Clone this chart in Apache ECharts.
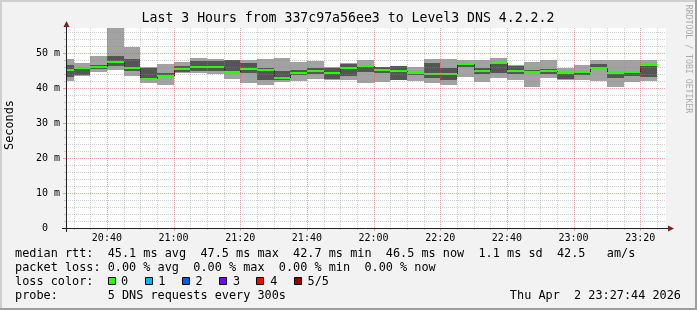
<!DOCTYPE html>
<html><head><meta charset="utf-8">
<script src="https://cdn.jsdelivr.net/npm/echarts@6/dist/echarts.min.js"></script>
<style>html,body{margin:0;padding:0;background:#f2f2f2}#c{width:697px;height:310px}</style>
</head><body><div id="c"></div>
<script>
// ---- data (times in minutes after midnight; each bin covers [end-5, end]) ----
const binEnd = [1230,1235,1240,1245,1250,1255,1260,1265,1270,1275,1280,1285,1290,1295,1300,1305,1310,1315,1320,1325,1330,1335,1340,1345,1350,1355,1360,1365,1370,1375,1380,1385,1390,1395,1400,1405];
const pingMin = [42.1,43.5,44.7,45.1,43.5,41.5,40.9,44.2,44.3,44.1,42.5,41.3,40.9,41.8,42.1,42.7,42.2,42.2,41.3,41.8,42.2,42.1,41.5,40.9,43.2,41.8,42.8,42.3,40.4,42.9,42.3,42.2,41.9,40.4,41.7,42.0];
const ping2   = [43.1,43.8,45.4,46.3,44.9,42.2,43.2,44.6,44.9,44.8,44.3,44.2,42.3,42.3,43.6,44.1,42.6,43.4,44.7,44.4,42.4,43.8,43.0,42.4,45.9,43.9,44.3,44.0,44.2,44.1,42.6,43.7,45.5,42.9,43.5,43.2];
const median  = [45.1,45.7,46.1,47.5,45.7,42.7,43.5,45.4,46.0,46.0,44.7,45.5,45.2,42.8,44.3,44.9,44.4,45.6,46.2,45.1,44.9,44.3,44.0,44.0,46.9,45.0,47.1,44.9,44.7,44.9,44.3,44.6,45.8,44.2,44.5,46.5];
const ping4   = [46.6,46.1,46.5,49.2,48.3,45.7,44.4,46.3,47.8,47.8,47.9,47.2,45.6,44.9,45.1,45.8,45.6,47.0,46.7,45.9,46.2,44.7,47.1,45.6,47.2,45.8,47.3,46.2,45.2,45.3,44.7,45.0,46.8,44.5,45.0,46.7];
const pingMax = [48.3,47.2,49.1,58.5,51.8,46.0,47.0,47.3,48.6,48.4,48.1,48.0,48.2,48.6,47.4,47.7,46.0,47.2,48.0,46.1,46.4,45.9,48.2,48.2,47.9,48.0,48.5,46.6,47.5,48.0,45.7,46.6,47.9,48.0,48.0,48.0];

const xStart = 1227 + 44/60;   // 20:27:44
const xEnd = xStart + 180;     // 23:27:44
const xMajorTicks = [1240,1260,1280,1300,1320,1340,1360,1380,1400];
const xTickLabels = ['20:40','21:00','21:20','21:40','22:00','22:20','22:40','23:00','23:20'];
const xMinorTicks = [1230,1235,1240,1245,1250,1255,1260,1265,1270,1275,1280,1285,1290,1295,1300,1305,1310,1315,1320,1325,1330,1335,1340,1345,1350,1355,1360,1365,1370,1375,1380,1385,1390,1395,1400,1405];
const yMajorTicks = [10,20,30,40,50];
const yMinorTicks = [2,4,6,8,12,14,16,18,22,24,26,28,32,34,36,38,42,44,46,48,52,54,56];
const yMax = 200/3.5;

const lossColors = ['#26ff00','#00b8ff','#0059ff','#7e00ff','#ff0000','#a10000'];
const lossLabels = ['0','1','2','3','4','5/5'];

// ---- style ----
const MONO = "'DejaVu Sans Mono', monospace";
const LIGHT = '#a2a2a2', DARK = '#555555', MED = '#26ff00';
const GRIDC = 'rgba(143,143,143,0.42)', MGRIDC = 'rgba(222,79,79,0.5)';
const ARROW = '#801f1f', AXIS = '#1f1f1f';
const L = 66, T = 28, W = 600, H = 200;

const chart = echarts.init(document.getElementById('c'), null, {renderer: 'canvas'});

const smokeData = binEnd.map((e, i) => [e - 5, e, pingMin[i], ping2[i], median[i], ping4[i], pingMax[i], i > 0 ? median[i - 1] : median[i]]);

function renderSmoke(params, api) {
  const cs = params.coordSys;
  const box = {x: cs.x, y: cs.y, width: cs.width, height: cs.height};
  const t0 = api.value(0), t1 = api.value(1);
  const xa = Math.round(api.coord([t0, 0])[0]);
  const xb = Math.round(api.coord([t1, 0])[0]);
  const yOf = v => Math.round(api.coord([t0, v])[1]);
  const clip = r => echarts.graphic.clipRectByRect(r, box);
  const rectFor = (lo, hi) => { const yt = yOf(hi), yb = yOf(lo); return clip({x: xa, y: yt, width: xb - xa, height: yb - yt}); };
  const ch = [];
  const outer = rectFor(api.value(2), api.value(6));
  if (outer) ch.push({type: 'rect', shape: outer, style: {fill: LIGHT}});
  const inner = rectFor(api.value(3), api.value(5));
  if (inner) ch.push({type: 'rect', shape: inner, style: {fill: DARK}});
  const ym = yOf(api.value(4)), yp = yOf(api.value(7));
  if (params.dataIndex > 0 && yp !== ym) {
    ch.push({type: 'line', shape: {x1: xa + 0.5, y1: yp, x2: xa + 0.5, y2: ym}, style: {stroke: '#202020', lineWidth: 1}});
  }
  const mr = clip({x: xa, y: ym - 1, width: xb - xa, height: 2});
  if (mr) ch.push({type: 'rect', shape: mr, style: {fill: MED}});
  return {type: 'group', children: ch};
}

function vLines(color, tick) {
  return function (params, api) {
    const cs = params.coordSys;
    const x = Math.round(api.coord([api.value(0), 0])[0]) + 0.5;
    return {type: 'group', children: [
      {type: 'line', shape: {x1: x, y1: cs.y, x2: x, y2: cs.y + cs.height}, style: {stroke: color, lineWidth: 1, lineDash: [1, 1]}},
      {type: 'line', shape: {x1: x, y1: cs.y + cs.height, x2: x, y2: cs.y + cs.height + tick}, style: {stroke: color, lineWidth: 1}}
    ]};
  };
}
function hLines(color, tick) {
  return function (params, api) {
    const cs = params.coordSys;
    const y = Math.round(api.coord([xStart, api.value(1)])[1]) + 0.5;
    return {type: 'group', children: [
      {type: 'line', shape: {x1: cs.x, y1: y, x2: cs.x + cs.width, y2: y}, style: {stroke: color, lineWidth: 1, lineDash: [1, 1]}},
      {type: 'line', shape: {x1: cs.x - tick, y1: y, x2: cs.x, y2: y}, style: {stroke: color, lineWidth: 1}}
    ]};
  };
}

const legendFont = '11.85px ' + MONO;
const rowY = [254, 268, 282, 296];
const graphics = [
  // border shades
  {type: 'rect', shape: {x: 0, y: 0, width: 697, height: 2}, style: {fill: '#cfcfcf'}, z: 100},
  {type: 'rect', shape: {x: 0, y: 0, width: 2, height: 310}, style: {fill: '#cfcfcf'}, z: 100},
  {type: 'rect', shape: {x: 0, y: 308, width: 697, height: 2}, style: {fill: '#9e9e9e'}, z: 101},
  {type: 'rect', shape: {x: 695, y: 0, width: 2, height: 310}, style: {fill: '#9e9e9e'}, z: 101},
  // title
  {type: 'text', x: 348, y: 19, style: {text: 'Last 3 Hours from 337c97a56ee3 to Level3 DNS 4.2.2.2', font: '13.2px ' + MONO, fill: '#000', textAlign: 'center', textVerticalAlign: 'middle'}, z: 100},
  // y axis title
  {type: 'text', x: 10, y: 125, rotation: Math.PI / 2, style: {text: 'Seconds', font: legendFont, fill: '#000', textAlign: 'center', textVerticalAlign: 'middle'}, z: 100},
  // watermark
  {type: 'text', x: 688, y: 59, rotation: -Math.PI / 2, style: {text: 'RRDTOOL / TOBI OETIKER', font: '8.2px ' + MONO, fill: '#ababab', textAlign: 'center', textVerticalAlign: 'middle'}, z: 100},
  // axes
  {type: 'line', shape: {x1: 62, y1: 228.5, x2: 669, y2: 228.5}, style: {stroke: AXIS, lineWidth: 1}, z: 100},
  {type: 'line', shape: {x1: 66.5, y1: 232, x2: 66.5, y2: 26}, style: {stroke: AXIS, lineWidth: 1}, z: 100},
  {type: 'polygon', shape: {points: [[668, 225.5], [674, 228.5], [668, 231.5]]}, style: {fill: ARROW}, z: 101},
  {type: 'polygon', shape: {points: [[63.5, 27], [66.5, 21], [69.5, 27]]}, style: {fill: ARROW}, z: 101},
  // legend rows
  {type: 'text', x: 15, y: rowY[0], style: {text: 'median rtt:  45.1 ms avg  47.5 ms max  42.7 ms min  46.5 ms now  1.1 ms sd  42.5   am/s', font: legendFont, fill: '#000', textVerticalAlign: 'middle'}, z: 100},
  {type: 'text', x: 15, y: rowY[1], style: {text: 'packet loss: 0.00 % avg  0.00 % max  0.00 % min  0.00 % now', font: legendFont, fill: '#000', textVerticalAlign: 'middle'}, z: 100},
  {type: 'text', x: 15, y: rowY[2], style: {text: 'loss color:', font: legendFont, fill: '#000', textVerticalAlign: 'middle'}, z: 100},
  {type: 'text', x: 15, y: rowY[3], style: {text: 'probe:       5 DNS requests every 300s', font: legendFont, fill: '#000', textVerticalAlign: 'middle'}, z: 100},
  {type: 'text', x: 681, y: rowY[3], style: {text: 'Thu Apr  2 23:27:44 2026', font: legendFont, fill: '#000', textAlign: 'right', textVerticalAlign: 'middle'}, z: 100}
];
lossColors.forEach((c, i) => {
  const bx = Math.round(108 + i * 37.1);
  graphics.push({type: 'rect', shape: {x: bx + 0.5, y: 277.5, width: 7, height: 7}, style: {fill: c, stroke: '#000', lineWidth: 1}, z: 100});
  graphics.push({type: 'text', x: 121 + i * 37.3, y: rowY[2], style: {text: lossLabels[i], font: legendFont, fill: '#000', textVerticalAlign: 'middle'}, z: 100});
});

const option = {
  backgroundColor: '#f2f2f2',
  animation: false,
  grid: {left: L, top: T, width: W, height: H, show: true, backgroundColor: '#ffffff', borderWidth: 0},
  xAxis: {
    type: 'value', min: xStart, max: xEnd,
    axisLine: {show: false}, axisTick: {show: false}, splitLine: {show: false},
    axisLabel: {
      customValues: xMajorTicks, margin: 5,
      fontFamily: MONO, fontSize: 10, color: '#000',
      formatter: v => { const i = xMajorTicks.indexOf(Math.round(v)); return i >= 0 ? xTickLabels[i] : ''; }
    }
  },
  yAxis: {
    type: 'value', min: 0, max: yMax, interval: 10,
    axisLine: {show: false}, axisTick: {show: false}, splitLine: {show: false},
    axisLabel: {
      margin: 6, fontFamily: MONO, fontSize: 10, color: '#000', showMaxLabel: false,
      formatter: v => v === 0 ? '0  ' : (Math.abs(v % 10) < 1e-6 ? Math.round(v) + ' m' : '')
    }
  },
  series: [
    {type: 'custom', name: 'smoke', renderItem: renderSmoke, data: smokeData, z: 2, silent: true,
     encode: {x: [0, 1], y: [2, 6]}},
    {type: 'custom', name: 'xminor', renderItem: vLines(GRIDC, 2), data: xMinorTicks.filter(v => xMajorTicks.indexOf(v) < 0).map(v => [v, 0]), z: 5, silent: true, encode: {x: 0, y: 1}},
    {type: 'custom', name: 'xmajor', renderItem: vLines(MGRIDC, 3), data: xMajorTicks.map(v => [v, 0]), z: 6, silent: true, encode: {x: 0, y: 1}},
    {type: 'custom', name: 'yminor', renderItem: hLines(GRIDC, 2), data: yMinorTicks.map(v => [xStart, v]), z: 5, silent: true, encode: {x: 0, y: 1}},
    {type: 'custom', name: 'ymajor', renderItem: hLines(MGRIDC, 3), data: yMajorTicks.map(v => [xStart, v]), z: 6, silent: true, encode: {x: 0, y: 1}}
  ],
  graphic: graphics
};
chart.setOption(option);
</script>
</body></html>
